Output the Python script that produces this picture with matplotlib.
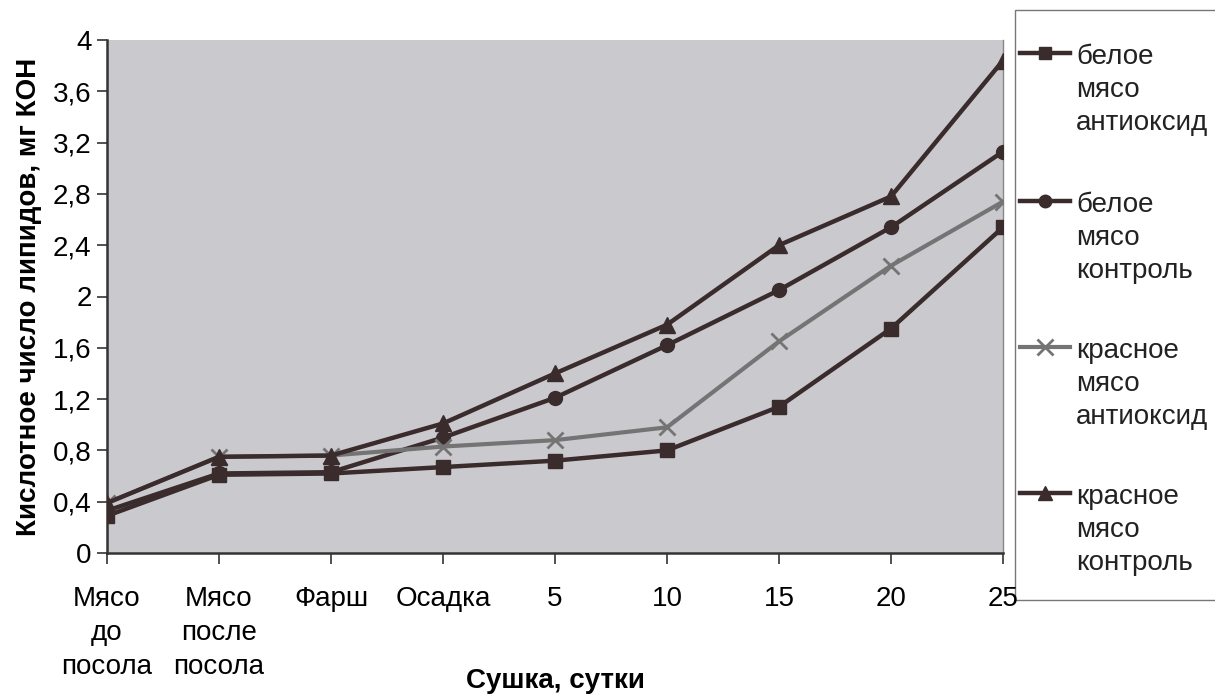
import matplotlib
matplotlib.use("Agg")
import matplotlib.pyplot as plt
from matplotlib.lines import Line2D
from matplotlib.patches import Rectangle

plt.rcParams['font.family'] = ['Liberation Sans', 'DejaVu Sans']

categories = ["Мясо\nдо\nпосола", "Мясо\nпосле\nпосола", "Фарш", "Осадка",
              "5", "10", "15", "20", "25"]
white_antiox = [0.29, 0.61, 0.62, 0.67, 0.72, 0.80, 1.14, 1.75, 2.54]
white_control = [0.33, 0.62, 0.63, 0.90, 1.21, 1.62, 2.05, 2.54, 3.13]
red_antiox = [0.39, 0.75, 0.76, 0.83, 0.88, 0.98, 1.65, 2.24, 2.74]
red_control = [0.39, 0.75, 0.76, 1.01, 1.40, 1.78, 2.40, 2.78, 3.84]
series_labels = ["белое\nмясо\nантиоксид", "белое\nмясо\nконтроль",
                 "красное\nмясо\nантиоксид", "красное\nмясо\nконтроль"]
y_ticks = [0, 0.4, 0.8, 1.2, 1.6, 2.0, 2.4, 2.8, 3.2, 3.6, 4.0]
y_tick_labels = ["0", "0,4", "0,8", "1,2", "1,6", "2", "2,4", "2,8", "3,2", "3,6", "4"]

dark = "#3a2b2c"
gray = "#747474"
styles = [
    dict(color=dark, marker='s', markersize=10, lw=3.2, ms_edge=dark),
    dict(color=dark, marker='o', markersize=10, lw=3.2, ms_edge=dark),
    dict(color=gray, marker='x', markersize=12, lw=3.0, ms_edge=gray),
    dict(color=dark, marker='^', markersize=11, lw=3.2, ms_edge=dark),
]
data = [white_antiox, white_control, red_antiox, red_control]

W, H = 1215, 695
fig = plt.figure(figsize=(W / 100, H / 100), dpi=100)
fig.patch.set_facecolor("white")
ax = fig.add_axes([107 / W, 1 - 553 / H, (1003 - 107) / W, (553 - 40) / H])
ax.set_facecolor("#cac9ce")
ax.set_zorder(2)

xs = list(range(len(categories)))
order = [2, 0, 1, 3]
for i in order:
    st = styles[i]
    ax.plot(xs, data[i], color=st['color'], lw=st['lw'], marker=st['marker'],
            markersize=st['markersize'], markeredgecolor=st['ms_edge'],
            markeredgewidth=2 if st['marker'] == 'x' else 1, zorder=3 + i,
            solid_joinstyle='miter')

FS = 20
ax.set_xlim(0, len(categories) - 1)
ax.set_ylim(0, 4)
ax.set_yticks(y_ticks)
ax.set_yticklabels(y_tick_labels, fontsize=FS)
ax.set_xticks(xs)
ax.set_xticklabels(categories, fontsize=FS, linespacing=1.38)
ax.tick_params(axis='y', length=7, width=1.2, color="#333333", pad=4)
ax.tick_params(axis='x', length=8, width=1.2, color="#333333", pad=16)
for s in ['left', 'bottom']:
    ax.spines[s].set_color("#333333")
    ax.spines[s].set_linewidth(1.8)
ax.spines['top'].set_visible(False)
ax.spines['right'].set_color("#888888")
ax.spines['right'].set_linewidth(1.0)

ax.set_ylabel("Кислотное число липидов, мг КОН", fontsize=FS, fontweight='bold',
              labelpad=8)
xl = ax.set_xlabel("Сушка, сутки", fontsize=FS, fontweight='bold')
xl.set_verticalalignment('center')
ax.xaxis.set_label_coords(0.5, (553 - 681) / (553 - 40))

# Legend (manual, Excel-like)
fig.patches.append(Rectangle((1015 / W, 1 - 600 / H), (W + 10 - 1015) / W,
                             (600 - 10) / H, transform=fig.transFigure,
                             facecolor='white', edgecolor='#777777', lw=1.0,
                             zorder=0))
entry_y = [53, 201, 347, 493]
for i, yy in enumerate(entry_y):
    st = styles[i]
    yf = 1 - yy / H
    fig.add_artist(Line2D([1020 / W, 1070 / W], [yf, yf], transform=fig.transFigure,
                          color=st['color'], lw=st['lw'], zorder=3))
    fig.add_artist(Line2D([1045 / W], [yf], transform=fig.transFigure,
                          color=st['color'], marker=st['marker'],
                          markersize=st['markersize'] - 1,
                          markeredgecolor=st['ms_edge'],
                          markeredgewidth=2 if st['marker'] == 'x' else 1,
                          zorder=4))
    fig.text(1076 / W, 1 - (yy - 9) / H, series_labels[i], fontsize=FS,
             va='top', ha='left', linespacing=1.36, color="#222222", zorder=3)

fig.savefig("out.png", dpi=100, facecolor="white")
